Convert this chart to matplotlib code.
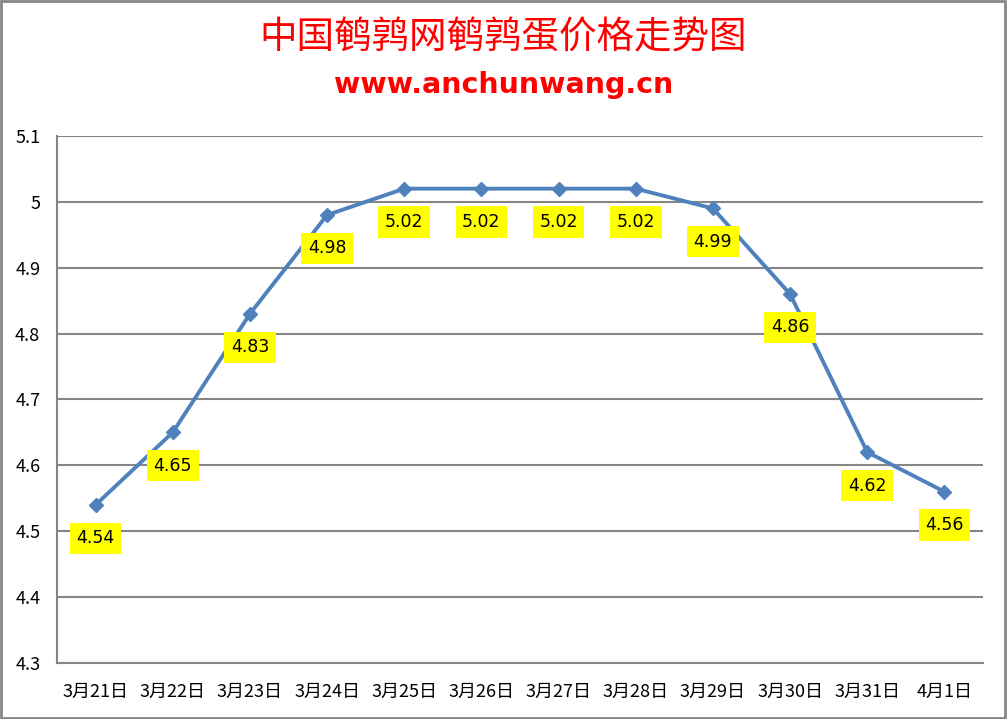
import matplotlib.pyplot as plt
from matplotlib.patches import Rectangle

plt.rcParams['font.family'] = ['Noto Sans CJK SC', 'DejaVu Sans']

# data
dates = ['3月21日', '3月22日', '3月23日', '3月24日', '3月25日', '3月26日',
         '3月27日', '3月28日', '3月29日', '3月30日', '3月31日', '4月1日']
prices = [4.54, 4.65, 4.83, 4.98, 5.02, 5.02, 5.02, 5.02, 4.99, 4.86, 4.62, 4.56]
yticks = [4.3, 4.4, 4.5, 4.6, 4.7, 4.8, 4.9, 5.0, 5.1]
ytick_labels = ['4.3', '4.4', '4.5', '4.6', '4.7', '4.8', '4.9', '5', '5.1']

fig = plt.figure(figsize=(10.07, 7.19), dpi=100)
fig.patches.append(Rectangle((0.001, 0.002), 0.997, 0.996, transform=fig.transFigure,
                             fill=False, edgecolor='#868686', linewidth=2))

ax = fig.add_axes([0.0566, 0.0779, 0.9196, 0.733])
x = list(range(len(dates)))
ax.plot(x, prices, color='#4F81BD', linewidth=2.8, marker='D', markersize=7.5,
        markerfacecolor='#4F81BD', markeredgecolor='#4F81BD')

for xi, p in zip(x, prices):
    ax.annotate(f'{p:.2f}', (xi, p), xytext=(0, -24), textcoords='offset points',
                ha='center', va='center', fontsize=12.5, family='DejaVu Sans',
                bbox=dict(boxstyle='square,pad=0.38', facecolor='yellow', edgecolor='none'))

ax.set_xlim(-0.5, len(dates) - 0.5)
ax.set_ylim(4.3, 5.1)
ax.set_yticks(yticks)
ax.set_yticklabels(ytick_labels)
ax.set_xticks(x)
ax.set_xticklabels(dates)
ax.tick_params(axis='both', length=0, labelsize=13)
ax.tick_params(axis='x', pad=14)
ax.tick_params(axis='y', pad=12)
ax.grid(axis='y', color='#868686', linewidth=1.5)
ax.set_axisbelow(True)
for side in ['top', 'right']:
    ax.spines[side].set_visible(False)
for side in ['left', 'bottom']:
    ax.spines[side].set_color('#868686')
    ax.spines[side].set_linewidth(1.5)

fig.text(0.5, 0.947, '中国鹌鹑网鹌鹑蛋价格走势图', color='red', fontsize=27,
         ha='center', va='center')
fig.text(0.5, 0.882, 'www.anchunwang.cn', color='red', fontsize=20.5, fontweight='bold',
         ha='center', va='center', family='DejaVu Sans')

fig.savefig('out.png', dpi=100)
